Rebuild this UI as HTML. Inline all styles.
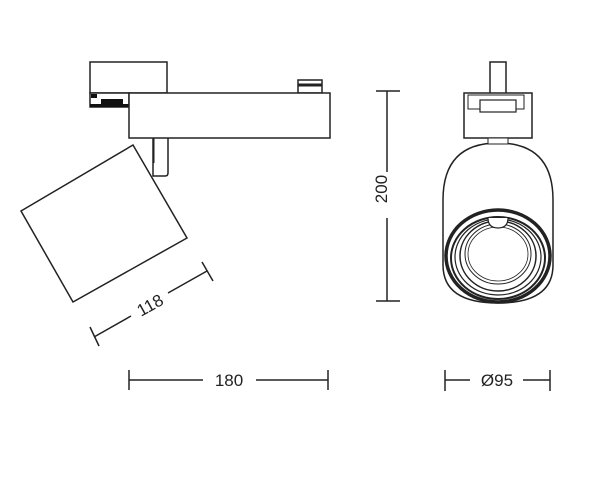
<!DOCTYPE html>
<html><head><style>body{margin:0;background:#fff}</style></head><body>
<svg width="600" height="491" viewBox="0 0 600 491" xmlns="http://www.w3.org/2000/svg" font-family="Liberation Sans, sans-serif">
<g fill="#fff" stroke="#222" stroke-width="1.5">
<rect x="90" y="62" width="77" height="31"/>
<rect x="90" y="93" width="39" height="14" fill="#fff"/>
<rect x="91" y="94" width="6" height="4" fill="#111" stroke="none"/>
<rect x="101" y="99" width="22" height="5" fill="#111" stroke="none"/>
<rect x="90" y="104" width="39" height="3" fill="#111" stroke="none"/>
<rect x="298" y="80" width="24" height="13"/>
<line x1="298" y1="85" x2="322" y2="85" stroke-width="3"/>
<path d="M153 138 V176 H165 Q168 176 168 173 V138"/>
<line x1="154" y1="138" x2="154" y2="163" stroke-width="1"/>
<rect x="129" y="93" width="201" height="45"/>
<polygon points="21,211 133,145 187,238 73,302"/>
<rect x="490" y="62" width="16" height="32"/>
<rect x="464" y="93" width="68" height="45"/>
<rect x="468" y="95" width="56" height="14" stroke-width="1"/>
<rect x="480" y="100" width="36" height="12" stroke-width="1.2"/>
<path d="M443 200 Q443 143 498 143 Q553 143 553 200 V265 Q553 303 498 303 Q443 303 443 265 Z"/>
<rect x="488" y="138" width="20" height="6" stroke-width="1"/>
<ellipse cx="498" cy="256" rx="52" ry="46" stroke-width="3.5"/>
<ellipse cx="498" cy="258" rx="47" ry="41" stroke-width="2"/>
<ellipse cx="498" cy="257" rx="43" ry="38" stroke-width="1.2"/>
<ellipse cx="498" cy="256" rx="38" ry="35" stroke-width="1.5"/>
<ellipse cx="498" cy="254" rx="33" ry="30" stroke-width="1"/>
<ellipse cx="498" cy="254" rx="30" ry="27" stroke-width="0.8"/>
<path d="M488 218 Q488 228 498 228 Q508 228 508 218" stroke-width="1.2"/>
</g>
<g stroke="#222" stroke-width="1.5" fill="none">
<line x1="202" y1="262" x2="213" y2="281"/>
<line x1="90" y1="327" x2="99" y2="346"/>
<line x1="94" y1="337" x2="131" y2="316"/>
<line x1="168" y1="293" x2="207" y2="271"/>
<line x1="129" y1="370" x2="129" y2="390"/>
<line x1="328" y1="370" x2="328" y2="390"/>
<line x1="129" y1="380" x2="203" y2="380"/>
<line x1="256" y1="380" x2="328" y2="380"/>
<line x1="376" y1="91" x2="400" y2="91"/>
<line x1="376" y1="301" x2="400" y2="301"/>
<line x1="387" y1="91" x2="387" y2="172"/>
<line x1="387" y1="218" x2="387" y2="301"/>
<line x1="445" y1="370" x2="445" y2="391"/>
<line x1="550" y1="370" x2="550" y2="391"/>
<line x1="445" y1="380" x2="470" y2="380"/>
<line x1="523" y1="380" x2="550" y2="380"/>
</g>
<g fill="#222" font-size="17">
<text x="150" y="311" text-anchor="middle" transform="rotate(-29 150 305)">118</text>
<text x="229" y="386" text-anchor="middle">180</text>
<text x="393" y="195" text-anchor="middle" transform="rotate(-90 387 195)">200</text>
<text x="497" y="386" text-anchor="middle">Ø95</text>
</g>
</svg>
</body></html>
